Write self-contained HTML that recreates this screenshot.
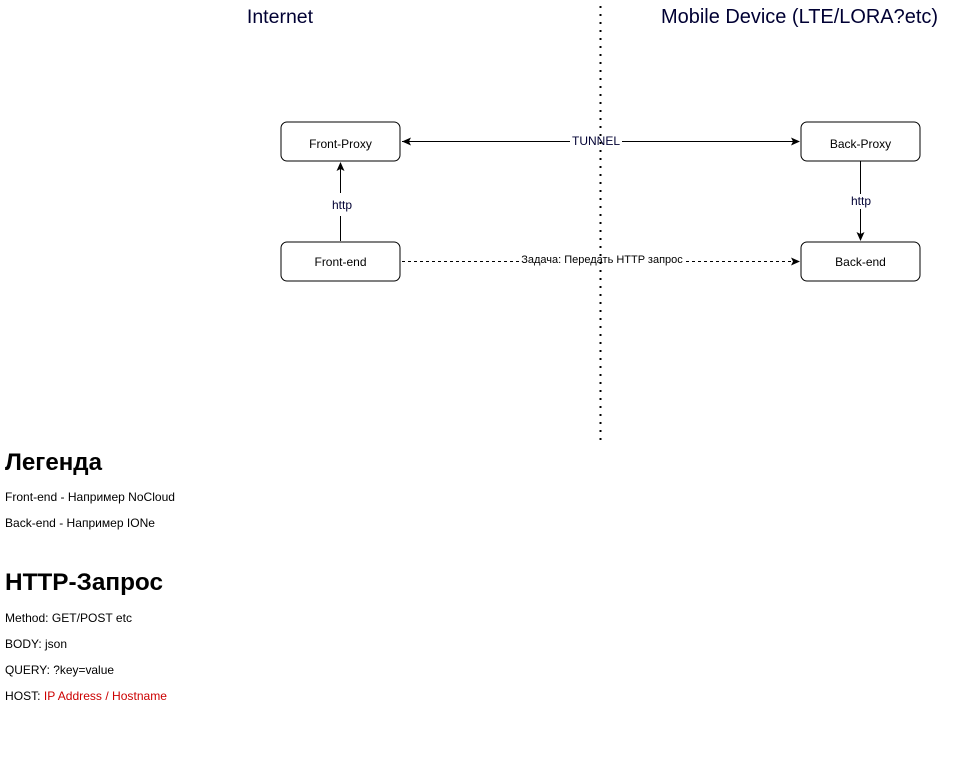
<!DOCTYPE html>
<html><head><meta charset="utf-8"><style>
html,body{margin:0;padding:0;background:#fff;width:961px;height:782px;overflow:hidden}
svg{display:block}
text{font-family:"Liberation Sans","DejaVu Sans",sans-serif}
</style></head><body>
<svg width="961" height="782" viewBox="0 0 961 782" xmlns="http://www.w3.org/2000/svg">
<defs>
<marker id="a" markerWidth="10" markerHeight="10" refX="8" refY="5" orient="auto" markerUnits="userSpaceOnUse">
<path d="M0,1 L9,5 L0,9 L2,5 Z" fill="#000"/></marker>
<marker id="b" markerWidth="10" markerHeight="10" refX="1" refY="5" orient="auto" markerUnits="userSpaceOnUse">
<path d="M10,1 L1,5 L10,9 L8,5 Z" fill="#000"/></marker>
</defs>
<line x1="600.5" y1="6" x2="600.5" y2="442" stroke="#000" stroke-width="2" stroke-dasharray="2 6"/>
<text x="280" y="23" font-size="19.5" text-anchor="middle" fill="#000033">Internet</text>
<text x="799.5" y="23" font-size="20" text-anchor="middle" fill="#000033" textLength="277" lengthAdjust="spacingAndGlyphs">Mobile Device (LTE/LORA?etc)</text>
<g fill="#fff" stroke="#000" stroke-width="1">
<rect x="281" y="122" width="119" height="39" rx="6"/>
<rect x="281" y="242" width="119" height="39" rx="6"/>
<rect x="801" y="122" width="119" height="39" rx="6"/>
<rect x="801" y="242" width="119" height="39" rx="6"/>
</g>
<g font-size="12" text-anchor="middle" fill="#000">
<text x="340.5" y="148">Front-Proxy</text>
<text x="340.5" y="266">Front-end</text>
<text x="860.5" y="148">Back-Proxy</text>
<text x="860.5" y="266">Back-end</text>
</g>
<line x1="402" y1="141.5" x2="570" y2="141.5" stroke="#000" marker-start="url(#b)"/>
<line x1="622" y1="141.5" x2="799" y2="141.5" stroke="#000" marker-end="url(#a)"/>
<text x="596" y="145" font-size="12" text-anchor="middle" fill="#000033">TUNNEL</text>
<line x1="340.5" y1="241" x2="340.5" y2="216" stroke="#000"/>
<line x1="340.5" y1="193" x2="340.5" y2="163" stroke="#000" marker-end="url(#a)"/>
<text x="342" y="209" font-size="12" text-anchor="middle" fill="#000033">http</text>
<line x1="860.5" y1="161" x2="860.5" y2="194" stroke="#000"/>
<line x1="860.5" y1="209" x2="860.5" y2="240" stroke="#000" marker-end="url(#a)"/>
<text x="861" y="205" font-size="12" text-anchor="middle" fill="#000033">http</text>
<line x1="402" y1="261.5" x2="519" y2="261.5" stroke="#000" stroke-dasharray="3 3"/>
<line x1="686" y1="261.5" x2="799" y2="261.5" stroke="#000" stroke-dasharray="3 3" marker-end="url(#a)"/>
<text x="602" y="263" font-size="11" text-anchor="middle" fill="#000">Задача: Передать HTTP запрос</text>
<text x="5" y="470" font-size="24" font-weight="bold" fill="#000" textLength="97" lengthAdjust="spacingAndGlyphs">Легенда</text>
<text x="5" y="501" font-size="12" fill="#000" textLength="170" lengthAdjust="spacingAndGlyphs">Front-end - Например NoCloud</text>
<text x="5" y="527" font-size="12" fill="#000" textLength="150" lengthAdjust="spacingAndGlyphs">Back-end - Например IONe</text>
<text x="5" y="590" font-size="24" font-weight="bold" fill="#000" textLength="158" lengthAdjust="spacingAndGlyphs">HTTP-Запрос</text>
<text x="5" y="622" font-size="12" fill="#000" textLength="127" lengthAdjust="spacingAndGlyphs">Method: GET/POST etc</text>
<text x="5" y="648" font-size="12" fill="#000" textLength="62" lengthAdjust="spacingAndGlyphs">BODY: json</text>
<text x="5" y="674" font-size="12" fill="#000" textLength="109" lengthAdjust="spacingAndGlyphs">QUERY: ?key=value</text>
<text x="5" y="700" font-size="12" fill="#000" textLength="162" lengthAdjust="spacingAndGlyphs">HOST: <tspan fill="#cc0000">IP Address / Hostname</tspan></text>
</svg>
</body></html>
